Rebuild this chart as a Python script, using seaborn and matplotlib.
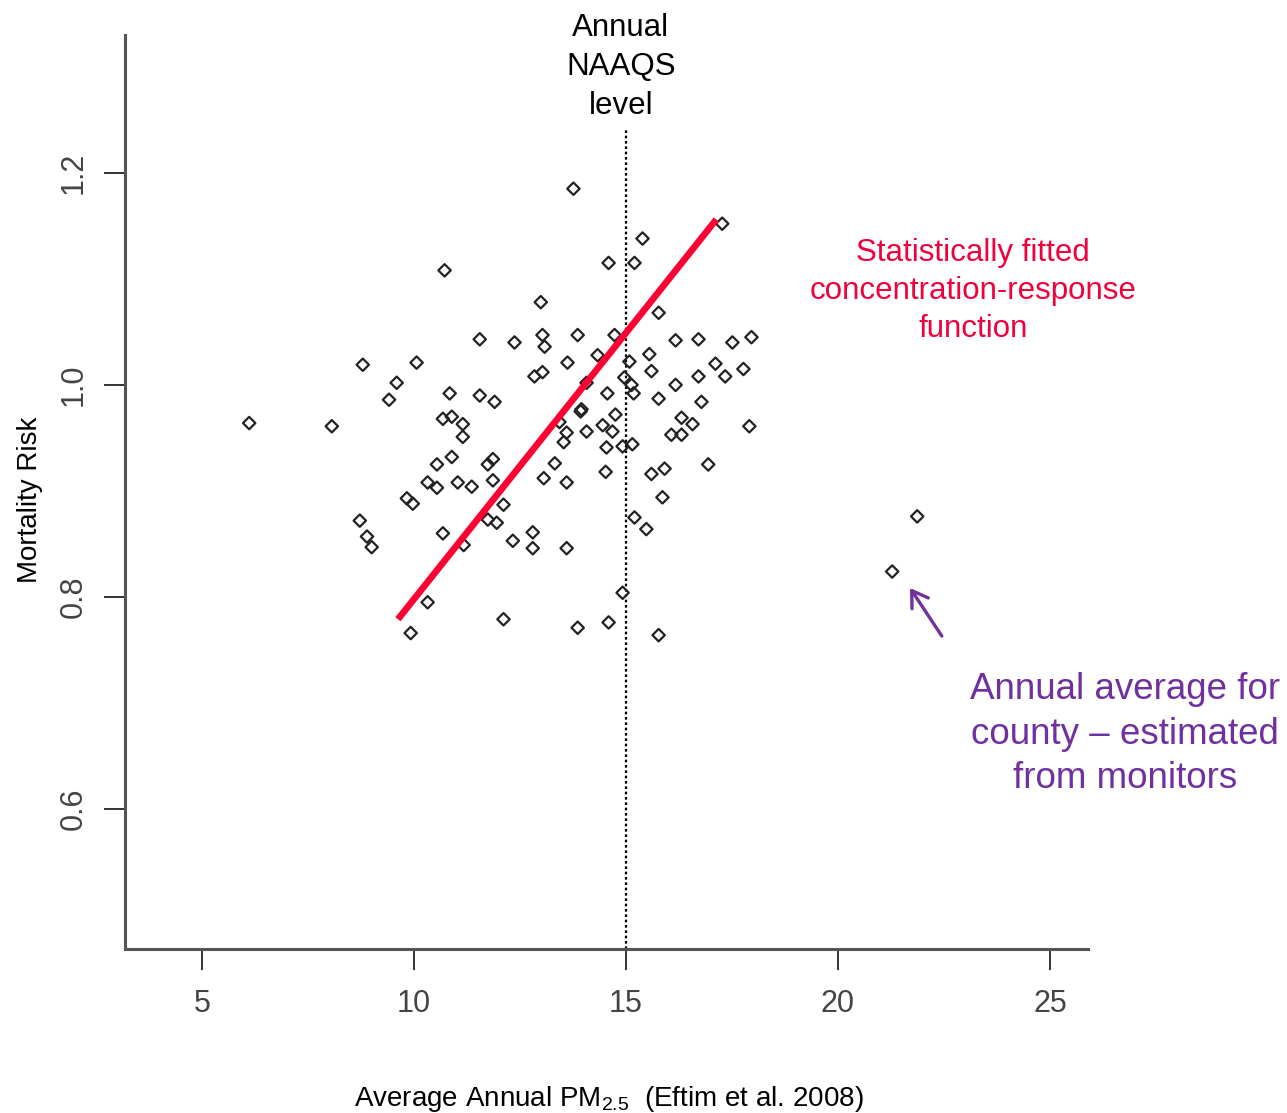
import matplotlib
matplotlib.use("Agg")
import matplotlib.pyplot as plt
import seaborn as sns
import pandas as pd

# ---- data ----
pm25 = [6.11, 8.06, 8.79, 9.59, 9.41, 8.72, 8.89, 9.00, 10.06, 9.83,
        9.97, 9.92, 10.32, 10.72, 10.84, 10.68, 10.89, 11.15, 11.15, 10.89,
        10.54, 10.32, 10.54, 10.68, 11.03, 11.36, 11.17, 11.55, 11.55, 11.90,
        11.86, 11.74, 11.86, 11.74, 11.95, 12.11, 12.11, 12.37, 12.33, 12.80,
        12.80, 12.99, 13.03, 13.08, 12.84, 13.03, 13.06, 13.32, 13.60, 13.60,
        13.53, 13.60, 13.43, 13.62, 13.76, 13.86, 13.93, 13.95, 14.07, 14.07,
        13.86, 14.33, 14.56, 14.45, 14.68, 14.54, 14.52, 14.73, 14.59, 14.75,
        14.59, 14.92, 14.92, 14.96, 15.13, 15.18, 15.08, 15.15, 15.20, 15.39,
        15.20, 15.48, 15.55, 15.60, 15.60, 15.77, 15.77, 15.91, 15.86, 15.77,
        16.07, 16.17, 16.17, 16.31, 16.31, 16.57, 16.71, 16.71, 16.78, 16.94,
        17.11, 17.34, 17.27, 17.51, 17.77, 17.96, 17.91, 21.28, 21.87]
risk = [0.964, 0.961, 1.019, 1.002, 0.986, 0.872, 0.857, 0.847, 1.021, 0.893,
        0.888, 0.766, 0.795, 1.108, 0.992, 0.968, 0.970, 0.963, 0.951, 0.932,
        0.925, 0.908, 0.903, 0.860, 0.908, 0.904, 0.849, 1.043, 0.990, 0.984,
        0.930, 0.925, 0.910, 0.873, 0.870, 0.887, 0.779, 1.040, 0.853, 0.861,
        0.846, 1.078, 1.047, 1.036, 1.008, 1.012, 0.912, 0.926, 0.908, 0.846,
        0.946, 0.955, 0.965, 1.021, 1.185, 1.047, 0.975, 0.977, 0.956, 1.002,
        0.771, 1.028, 0.992, 0.962, 0.956, 0.941, 0.918, 1.047, 1.115, 0.972,
        0.776, 0.804, 0.942, 1.007, 1.000, 0.992, 1.022, 0.944, 1.115, 1.138,
        0.875, 0.864, 1.029, 1.013, 0.916, 1.068, 0.987, 0.921, 0.894, 0.764,
        0.953, 1.042, 1.000, 0.969, 0.953, 0.963, 1.043, 1.008, 0.984, 0.925,
        1.020, 1.008, 1.152, 1.040, 1.015, 1.045, 0.961, 0.824, 0.876]

fit_x = [9.62, 17.13]
fit_y = [0.779, 1.156]

naaqs_level = 15
naaqs_top = 1.241

x_ticks = [5, 10, 15, 20, 25]
y_ticks = [0.6, 0.8, 1.0, 1.2]
y_tick_labels = ["0.6", "0.8", "1.0", "1.2"]

arrow_head = (21.70, 0.8085)
arrow_tail = (22.45, 0.7632)

x_limits = (3.18, 25.9)
y_limits = (0.468, 1.330)

# ---- style ----
sns.set_theme(style="white")
plt.rcParams["font.family"] = ["Liberation Sans", "DejaVu Sans"]
plt.rcParams["mathtext.fontset"] = "custom"
plt.rcParams["mathtext.rm"] = "Liberation Sans"
plt.rcParams["mathtext.it"] = "Liberation Sans:italic"

fig = plt.figure(figsize=(12.87, 11.13), dpi=100)
ax = fig.add_axes([0.0971, 0.1473, 0.7483, 0.8213])

df = pd.DataFrame({"pm25": pm25, "risk": risk})
sns.scatterplot(data=df, x="pm25", y="risk", marker="D", s=40,
                facecolors="none", edgecolor="#222222", linewidth=1.6,
                ax=ax, zorder=3)

fit_df = pd.DataFrame({"x": fit_x, "y": fit_y})
sns.lineplot(data=fit_df, x="x", y="y", color="#FF0033", linewidth=4.8,
             ax=ax, zorder=4, solid_capstyle="butt")

ax.plot([naaqs_level, naaqs_level], [y_limits[0], naaqs_top], color="black",
        linewidth=1.6, dashes=(1.2, 1.2), zorder=2, clip_on=False)

ax.set_xlim(*x_limits)
ax.set_ylim(*y_limits)
ax.set_xticks(x_ticks)
ax.set_xticklabels([str(t) for t in x_ticks])
ax.set_yticks(y_ticks)
ax.set_yticklabels(y_tick_labels, rotation=90, va="center")

for side in ["top", "right"]:
    ax.spines[side].set_visible(False)
for side in ["left", "bottom"]:
    ax.spines[side].set_color("#555555")
    ax.spines[side].set_linewidth(2.2)

ax.tick_params(axis="both", which="major", direction="out", length=15,
               width=1.4, color="#333333", labelcolor="#444444",
               labelsize=22, bottom=True, left=True)
ax.tick_params(axis="x", pad=14)
ax.tick_params(axis="y", pad=11)

ax.set_xlabel("Average Annual PM$_{\\mathrm{2.5}}$  (Eftim et al. 2008)",
              fontsize=20, color="black")
ax.set_ylabel("Mortality Risk", fontsize=20, color="black")
ax.xaxis.set_label_coords(0.5026, -0.148)
ax.yaxis.set_label_coords(-0.085, 0.491)

fig.text(621 / 1287, 1 - 67 / 1113, "Annual\nNAAQS\nlevel", ha="center",
         va="center", fontsize=22.5, color="black", linespacing=1.38)
fig.text(973 / 1287, 1 - 291 / 1113,
         "Statistically fitted\nconcentration-response\nfunction",
         ha="center", va="center", fontsize=22.5, color="#F0003C",
         linespacing=1.36)
fig.text(1125 / 1287, 1 - 734 / 1113,
         "Annual average for\ncounty \u2013 estimated\nfrom monitors",
         ha="center", va="center", fontsize=26.5, color="#7030A0",
         linespacing=1.37)

ax.annotate("", xy=arrow_head, xytext=arrow_tail, xycoords="data",
            textcoords="data", annotation_clip=False,
            arrowprops=dict(arrowstyle="->,head_length=0.55,head_width=0.35",
                            color="#7030A0", lw=2.4, mutation_scale=20,
                            shrinkA=0, shrinkB=0))

fig.savefig("out.png", dpi=100)
